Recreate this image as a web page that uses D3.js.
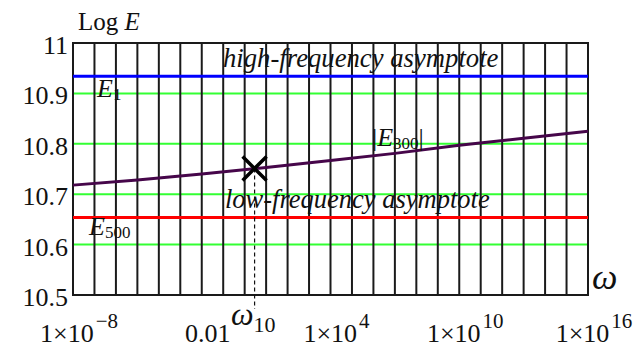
<!DOCTYPE html>
<html>
<head>
<meta charset="utf-8">
<script src="https://cdn.jsdelivr.net/npm/d3@7"></script>
<style>
  body { margin: 0; background: #fff; }
</style>
</head>
<body>
<div id="js_chart"></div>
<script>
// data
const omega = [1e-8, 1e-5, 1e-2, 10, 1e4, 1e7, 1e10, 1e13, 1e16];
const logE300 = [10.718, 10.728, 10.740, 10.753, 10.767, 10.781, 10.797, 10.811, 10.825];
const logE1 = 10.934;    // high-frequency asymptote
const logE500 = 10.654;  // low-frequency asymptote
const markOmega = 2.9, markE = 10.751;
const yTicks = [10.5, 10.6, 10.7, 10.8, 10.9, 11];
const yGrid = [10.6, 10.7, 10.8, 10.9];
const xTicks = [1e-8, 1e-2, 1e4, 1e10, 1e16];
const xTickLabels = [["1\u00d710", "\u22128"], ["0.01", ""], ["1\u00d710", "4"], ["1\u00d710", "10"], ["1\u00d710", "16"]];

const W = 637, H = 347;
const pLeft = 73, pRight = 588, pTop = 43, pBottom = 295;
const serif = "'Liberation Serif', 'Times New Roman', Times, 'DejaVu Serif', serif";

const svg = d3.select("#js_chart").append("svg")
    .attr("width", W).attr("height", H)
    .attr("font-family", serif)
    .attr("fill", "#111");

const x = d3.scaleLog().domain([1e-8, 1e16]).range([pLeft, pRight]);
const y = d3.scaleLinear().domain([10.5, 11]).range([pBottom, pTop]);

// horizontal green grid
svg.append("g").selectAll("line").data(yGrid).enter().append("line")
    .attr("x1", pLeft).attr("x2", pRight)
    .attr("y1", d => y(d)).attr("y2", d => y(d))
    .attr("stroke", "#33ff33").attr("stroke-width", 2);

// vertical grid, every decade
const decades = d3.range(-7, 16).map(e => Math.pow(10, e));
svg.append("g").selectAll("line").data(decades).enter().append("line")
    .attr("x1", d => x(d)).attr("x2", d => x(d))
    .attr("y1", pTop).attr("y2", pBottom)
    .attr("stroke", "#1a1a1a").attr("stroke-width", 2);

// frame
svg.append("rect")
    .attr("x", pLeft).attr("y", pTop)
    .attr("width", pRight - pLeft).attr("height", pBottom - pTop)
    .attr("fill", "none").attr("stroke", "#1a1a1a").attr("stroke-width", 2);

// asymptotes
svg.append("line")
    .attr("x1", pLeft).attr("x2", pRight)
    .attr("y1", y(logE500)).attr("y2", y(logE500))
    .attr("stroke", "#ff0000").attr("stroke-width", 3);
svg.append("line")
    .attr("x1", pLeft).attr("x2", pRight)
    .attr("y1", y(logE1)).attr("y2", y(logE1))
    .attr("stroke", "#0000ff").attr("stroke-width", 3);

// |E300|
const line = d3.line()
    .x((d, i) => x(omega[i]))
    .y(d => y(d));
svg.append("path")
    .attr("d", line(logE300))
    .attr("fill", "none").attr("stroke", "#46064a").attr("stroke-width", 3);

// marker + dashed drop line
const mx = x(markOmega), my = y(markE);
svg.append("line")
    .attr("x1", mx).attr("x2", mx).attr("y1", my).attr("y2", 309)
    .attr("stroke", "#111").attr("stroke-width", 1.2).attr("stroke-dasharray", "4,3");
svg.append("path")
    .attr("d", `M${mx - 12},${my - 12}L${mx + 12},${my + 12}M${mx - 12},${my + 12}L${mx + 12},${my - 12}`)
    .attr("stroke", "#000").attr("stroke-width", 3.5);

// y tick labels
svg.append("g").selectAll("text").data(yTicks).enter().append("text")
    .attr("x", 68).attr("y", d => y(d) + 11)
    .attr("text-anchor", "end").attr("font-size", 26)
    .text(d => d === 11 ? "11" : d.toFixed(1));

// x tick labels
xTicks.forEach((t, i) => {
    const tx = svg.append("text")
        .attr("x", x(t) + 6).attr("y", 342)
        .attr("text-anchor", "middle").attr("font-size", 26);
    tx.append("tspan").text(xTickLabels[i][0]);
    if (xTickLabels[i][1])
        tx.append("tspan").attr("dx", 2).attr("dy", -14).attr("font-size", 21).text(xTickLabels[i][1]);
});

// axis titles
const yt = svg.append("text").attr("x", 78).attr("y", 30).attr("font-size", 25);
yt.append("tspan").text("Log ");
yt.append("tspan").attr("font-style", "italic").text("E");

svg.append("text").attr("x", 592).attr("y", 289)
    .attr("font-size", 36).attr("font-style", "italic").text("\u03c9");

const w10 = svg.append("text").attr("x", 231).attr("y", 325).attr("font-size", 32);
w10.append("tspan").attr("font-style", "italic").text("\u03c9");
w10.append("tspan").attr("dy", 7).attr("font-size", 22).text("10");

// curve labels
function subLabel(px, py, main, sub, bars) {
    const t = svg.append("text").attr("x", px).attr("y", py).attr("font-size", 26);
    if (bars) t.append("tspan").text("|");
    t.append("tspan").attr("font-style", "italic").text(main);
    t.append("tspan").attr("dy", 3).attr("font-size", 17).text(sub);
    if (bars) t.append("tspan").attr("dy", -3).text("|");
}
subLabel(97, 97, "E", "1", false);
subLabel(89, 235, "E", "500", false);
subLabel(372, 146, "E", "300", true);

svg.append("text").attr("x", 223).attr("y", 67)
    .attr("font-size", 26.7).attr("font-style", "italic").text("high-frequency asymptote");
svg.append("text").attr("x", 225).attr("y", 208)
    .attr("font-size", 26.5).attr("font-style", "italic").text("low-frequency asymptote");
</script>
</body>
</html>
